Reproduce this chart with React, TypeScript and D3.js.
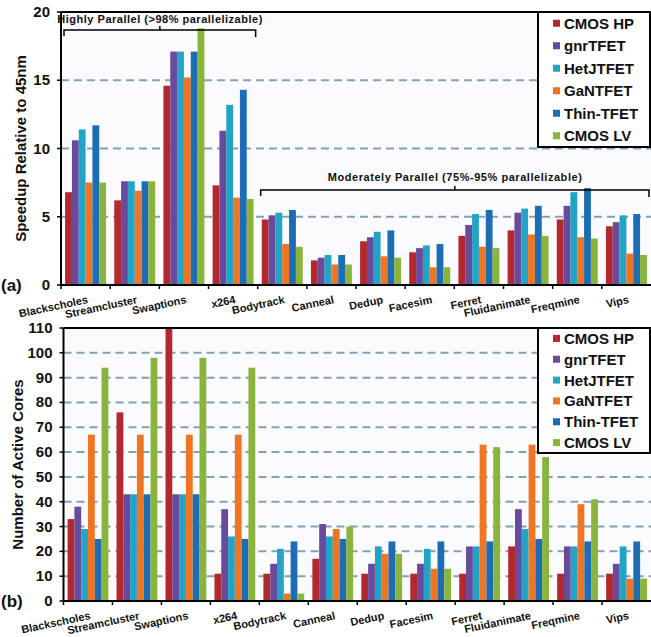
import React from "react";
import * as d3 from "d3";

const categories = [
  "Blackscholes",
  "Streamcluster",
  "Swaptions",
  "x264",
  "Bodytrack",
  "Canneal",
  "Dedup",
  "Facesim",
  "Ferret",
  "Fluidanimate",
  "Freqmine",
  "Vips",
];
const seriesNames = ["CMOS HP", "gnrTFET", "HetJTFET", "GaNTFET", "Thin-TFET", "CMOS LV"];
const seriesColors = ["#b3282d", "#6a4a9c", "#22a4c6", "#f07522", "#1d6db4", "#8ab43c"];

// (a) speedup relative to 45nm
const speedupCmosHP = [6.8, 6.2, 14.6, 7.3, 4.8, 1.8, 3.2, 2.4, 3.6, 4.0, 4.8, 4.3];
const speedupGnr = [10.6, 7.6, 17.1, 11.3, 5.1, 2.0, 3.5, 2.7, 4.4, 5.3, 5.8, 4.6];
const speedupHetJ = [11.4, 7.6, 17.1, 13.2, 5.3, 2.2, 3.9, 2.9, 5.2, 5.6, 6.8, 5.1];
const speedupGaN = [7.5, 6.9, 15.2, 6.4, 3.0, 1.5, 2.1, 1.3, 2.8, 3.7, 3.5, 2.3];
const speedupThin = [11.7, 7.6, 17.1, 14.3, 5.5, 2.2, 4.0, 3.0, 5.5, 5.8, 7.1, 5.2];
const speedupLV = [7.5, 7.6, 18.8, 6.3, 2.8, 1.5, 2.0, 1.3, 2.7, 3.6, 3.4, 2.2];
const speedupTicks = ["0", "5", "10", "15", "20"];

// (b) number of active cores
const coresCmosHP = [33, 76, 110, 11, 11, 17, 11, 11, 11, 22, 11, 11];
const coresGnr = [38, 43, 43, 37, 15, 31, 15, 15, 22, 37, 22, 15];
const coresHetJ = [29, 43, 43, 26, 21, 26, 22, 21, 22, 29, 22, 22];
const coresGaN = [67, 67, 67, 67, 3, 29, 19, 13, 63, 63, 39, 9];
const coresThin = [25, 43, 43, 25, 24, 25, 24, 24, 24, 25, 24, 24];
const coresLV = [94, 98, 98, 94, 3, 30, 19, 13, 62, 58, 41, 9];
const coreTicks = ["0", "10", "20", "30", "40", "50", "60", "70", "80", "90", "100", "110"];

const FONT = "'Liberation Sans', Arial, sans-serif";

type Bracket = { from: number; to: number; label: string; y: number; textY: number; textLen: number };

type PanelProps = {
  series: number[][];
  ticks: string[];
  left: number;
  right: number;
  top: number;
  bottom: number;
  yTitle: string;
  titleX: number;
  panelLabel: string;
  legendTop: number;
  legendBottom: number;
  brackets?: Bracket[];
};

const Panel: React.FC<PanelProps> = ({
  series,
  ticks,
  left,
  right,
  top,
  bottom,
  yTitle,
  titleX,
  panelLabel,
  legendTop,
  legendBottom,
  brackets = [],
}) => {
  const x0 = d3.scaleBand<string>().domain(categories).range([left, right]).paddingInner(0).paddingOuter(0);
  const x1 = d3
    .scaleBand<string>()
    .domain(seriesNames)
    .range([0, x0.bandwidth()])
    .paddingInner(0)
    .paddingOuter(0.6);
  const tickVals = ticks.map(Number);
  const y = d3
    .scaleLinear()
    .domain([0, tickVals[tickVals.length - 1]])
    .range([bottom, top]);

  const legendX = 538;
  const legendStep = (legendBottom - legendTop) / 6;

  return (
    <g>
      <rect x={left} y={top} width={right - left} height={bottom - top} fill="#fbfbfd" />
      {tickVals.slice(1, -1).map((t) => (
        <line
          key={"g" + t}
          x1={left}
          x2={right}
          y1={y(t)}
          y2={y(t)}
          stroke="#7fa3b6"
          strokeWidth={2}
          strokeDasharray="8,5"
        />
      ))}
      {categories.map((c, ci) => (
        <g key={c}>
          {series.map((vals, si) => (
            <rect
              key={si}
              x={(x0(c) ?? 0) + (x1(seriesNames[si]) ?? 0)}
              y={y(vals[ci])}
              width={x1.bandwidth()}
              height={bottom - y(vals[ci])}
              fill={seriesColors[si]}
            />
          ))}
        </g>
      ))}
      {/* frame */}
      <line x1={left} x2={right} y1={top} y2={top} stroke="#000" strokeWidth={2} />
      <line x1={left} x2={left} y1={top} y2={bottom} stroke="#000" strokeWidth={2} />
      <line x1={left} x2={right} y1={bottom} y2={bottom} stroke="#000" strokeWidth={2} />
      {categories.map((c) => (
        <line
          key={"t" + c}
          x1={x0(c) ?? 0}
          x2={x0(c) ?? 0}
          y1={bottom}
          y2={bottom + 4}
          stroke="#000"
          strokeWidth={1.5}
        />
      ))}
      <text x={1} y={bottom + 6} fontFamily={FONT} fontWeight="bold" fontSize={17} fill="#111">
        {panelLabel}
      </text>
      <text
        transform={`translate(${titleX},${(top + bottom) / 2}) rotate(-90)`}
        textAnchor="middle"
        fontFamily={FONT}
        fontWeight="bold"
        fontSize={15}
        fill="#111"
      >
        {yTitle}
      </text>
      {categories.map((c) => (
        <text
          key={"l" + c}
          transform={`translate(${(x0(c) ?? 0) + x0.bandwidth() / 2 + 3},${bottom + 18}) rotate(-12)`}
          textAnchor="end"
          fontFamily={FONT}
          fontWeight="bold"
          fontSize={11}
          fill="#111"
        >
          {c}
        </text>
      ))}
      {brackets.map((b) => {
        const bx1 = (x0(categories[b.from]) ?? 0) + 3;
        const bx2 = (x0(categories[b.to]) ?? 0) + x0.bandwidth() - 2;
        const mid = (bx1 + bx2) / 2;
        return (
          <g key={b.label}>
            <path
              d={`M${bx1},${b.y + 6}V${b.y}H${bx2}V${b.y + 7}M${mid},${b.y}V${b.y - 4}`}
              fill="none"
              stroke="#000"
              strokeWidth={1.5}
            />
            <text
              x={mid}
              y={b.textY}
              textAnchor="middle"
              fontFamily={FONT}
              fontWeight="bold"
              fontSize={11}
              fill="#111"
              textLength={b.textLen}
              lengthAdjust="spacing"
            >
              {b.label}
            </text>
          </g>
        );
      })}
      {/* legend */}
      <rect
        x={legendX}
        y={legendTop}
        width={650 - legendX}
        height={legendBottom - legendTop}
        fill="#fff"
        stroke="#000"
        strokeWidth={2}
      />
      {seriesNames.map((s, i) => {
        const cy = legendTop + legendStep * (i + 0.5);
        return (
          <g key={s}>
            <rect x={553} y={cy - 3.5} width={7} height={7} fill={seriesColors[i]} />
            <text x={564} y={cy + 5.5} fontFamily={FONT} fontWeight="bold" fontSize={15} fill="#111">
              {s}
            </text>
          </g>
        );
      })}
      {/* y axis ticks and labels */}
      {ticks.map((label, i) => (
        <g key={"y" + label}>
          <line
            x1={left - 4}
            x2={left}
            y1={y(tickVals[i])}
            y2={y(tickVals[i])}
            stroke="#000"
            strokeWidth={1.5}
          />
          <text
            x={left - 11}
            y={y(tickVals[i]) + 5}
            textAnchor="end"
            fontFamily={FONT}
            fontWeight="bold"
            fontSize={15}
            fill="#111"
          >
            {label}
          </text>
        </g>
      ))}
    </g>
  );
};

const App: React.FC = () => {
  const speedup = [speedupCmosHP, speedupGnr, speedupHetJ, speedupGaN, speedupThin, speedupLV];
  const cores = [coresCmosHP, coresGnr, coresHetJ, coresGaN, coresThin, coresLV];
  return (
    <svg
      width={651}
      height={637}
      style={{ position: "absolute", left: 0, top: 0, background: "#fff" }}
    >
      <Panel
        series={speedup}
        ticks={speedupTicks}
        left={61}
        right={651}
        top={12}
        bottom={285}
        yTitle="Speedup Relative to 45nm"
        titleX={26}
        panelLabel="(a)"
        legendTop={12}
        legendBottom={147}
        brackets={[
          { from: 0, to: 3, label: "Highly Parallel (>98% parallelizable)", y: 30, textY: 23, textLen: 205 },
          { from: 4, to: 11, label: "Moderately Parallel (75%-95% parallelizable)", y: 190, textY: 181, textLen: 254 },
        ]}
      />
      <Panel
        series={cores}
        ticks={coreTicks}
        left={63.5}
        right={651}
        top={328}
        bottom={601}
        yTitle="Number of Active Cores"
        titleX={23}
        panelLabel="(b)"
        legendTop={328}
        legendBottom={453}
      />
    </svg>
  );
};

export default App;
